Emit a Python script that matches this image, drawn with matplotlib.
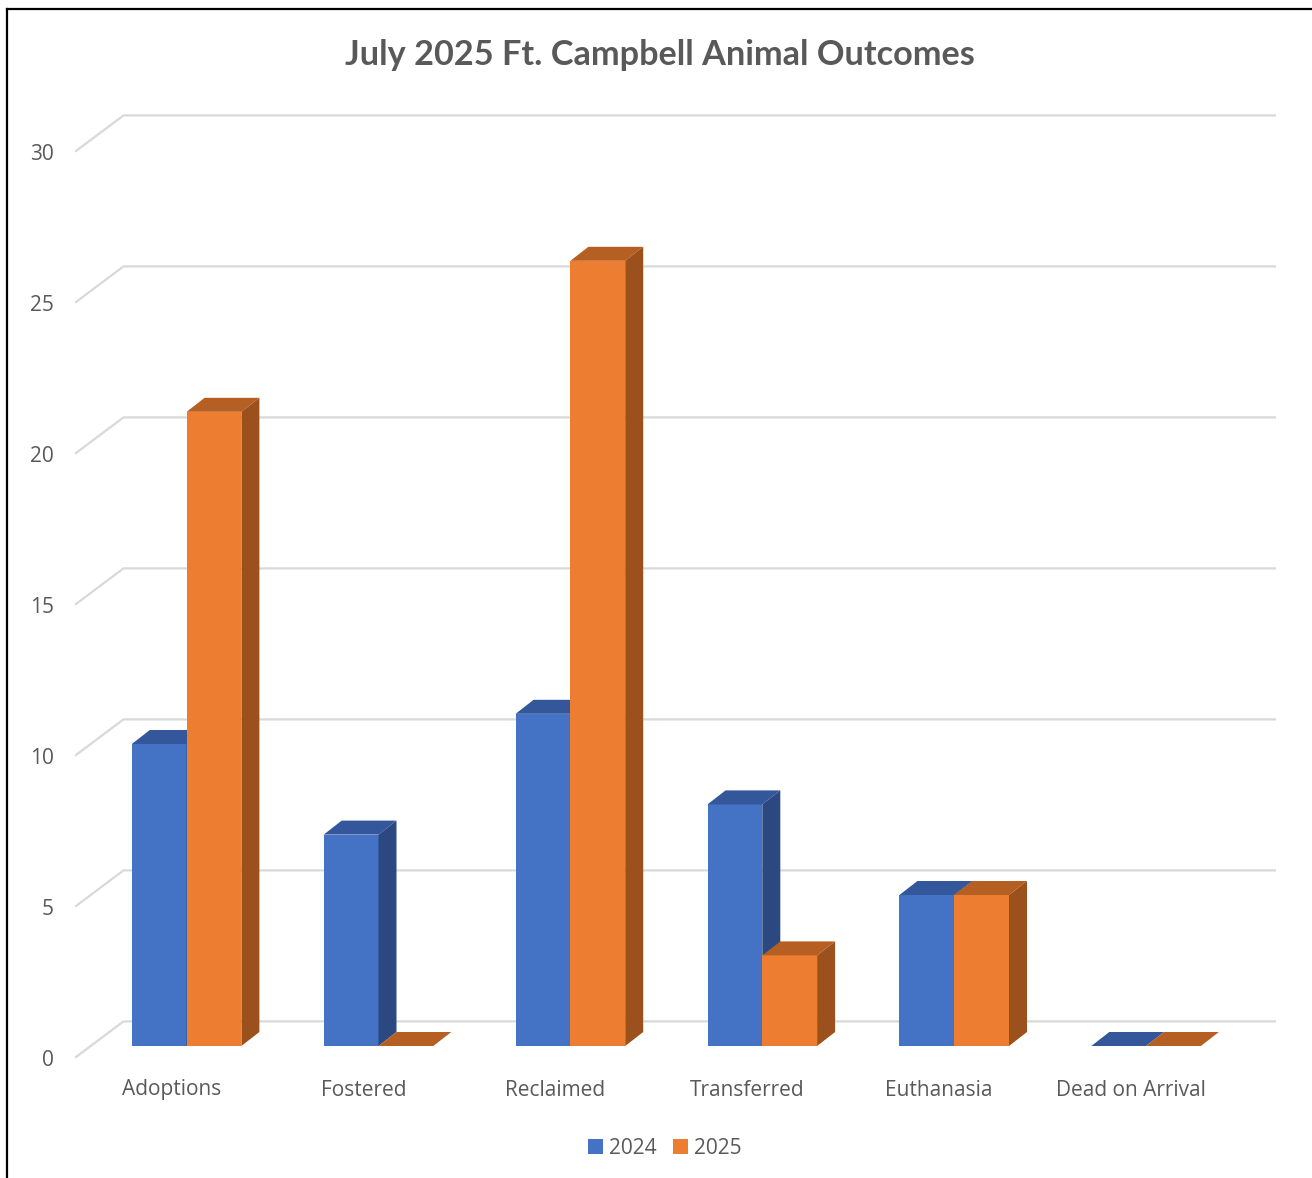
import matplotlib
matplotlib.use("Agg")
import matplotlib.pyplot as plt
from matplotlib.lines import Line2D
from matplotlib.patches import Polygon

#---------------------------data---------------------------#
categories = ["Adoptions", "Fostered", "Reclaimed", "Transferred", "Euthanasia", "Dead on Arrival"]
values_2024 = [10, 7, 11, 8, 5, 0]
values_2025 = [21, 0, 26, 3, 5, 0]
y_ticks = [0, 5, 10, 15, 20, 25, 30]
title = "July 2025 Ft. Campbell Animal Outcomes"

#--------------------------layout--------------------------#
W, H = 1312, 1178
step_px = 191.9      # pixels per category
unit_px = 30.2       # pixels per value
x0_px, y0_px = 186.6, 1046

bar_w = 54.8 / step_px
depth_x = 18 / step_px
depth_y = 14 / unit_px

grid_front_x = (76 - x0_px) / step_px
grid_back_x = (123.5 - x0_px) / step_px
grid_right_x = (1275 - x0_px) / step_px
grid_front_y = -11 / unit_px
grid_back_y = 24.6 / unit_px

text_color = "#595959"
grid_color = "#D9D9D9"

plt.rcParams["font.family"] = ["Open Sans", "DejaVu Sans"]

fig = plt.figure(figsize=(W / 100, H / 100), dpi=100, facecolor="white")
ax = fig.add_axes([0, 0, 1, 1])
ax.set_xlim(-x0_px / step_px, (W - x0_px) / step_px)
ax.set_ylim(-(H - y0_px) / unit_px, y0_px / unit_px)
ax.axis("off")


def draw_series(xs, values, front, top, side, label):
    bars = ax.bar(xs, values, width=bar_w, align="edge", color=front, label=label, zorder=3)
    for x, v in zip(xs, values):
        ax.add_patch(Polygon([(x, v), (x + bar_w, v), (x + bar_w + depth_x, v + depth_y), (x + depth_x, v + depth_y)],
                             closed=True, facecolor=top, edgecolor="none", zorder=3))
        if v > 0:
            ax.add_patch(Polygon([(x + bar_w, 0), (x + bar_w + depth_x, depth_y),
                                  (x + bar_w + depth_x, v + depth_y), (x + bar_w, v)],
                                 closed=True, facecolor=side, edgecolor="none", zorder=3))
    return bars


#------------------------gridlines-------------------------#
for t in y_ticks:
    ax.plot([grid_front_x, grid_back_x, grid_right_x],
            [t + grid_front_y, t + grid_back_y, t + grid_back_y],
            color=grid_color, lw=1.6, zorder=1, solid_joinstyle="miter")
    ax.text(grid_front_x - 22 / step_px, t + grid_front_y - 1 / unit_px, str(t), ha="right", va="center_baseline",
            fontsize=15, color=text_color)

#---------------------------bars---------------------------#
xs = list(range(len(categories)))
h_2024 = h_2025 = None
for i in xs:
    # 2024 first, the 2025 top has to sit over the 2024 side
    h = draw_series([i - bar_w], [values_2024[i]], "#4472C4", "#34569A", "#2B4880", "2024")
    h_2024 = h_2024 or h
    h = draw_series([i], [values_2025[i]], "#ED7D31", "#B65F22", "#9C501C", "2025")
    h_2025 = h_2025 or h

#--------------------------labels--------------------------#
for i, name in zip(xs, categories):
    ax.text(i - 15 / step_px, -41.5 / unit_px, name, ha="center", va="center_baseline",
            fontsize=15, color=text_color)

ax.text((660 - x0_px) / step_px, (y0_px - 52) / unit_px, title, ha="center", va="center_baseline",
        fontsize=24.7, fontweight="bold", color=text_color, family=["Lato", "DejaVu Sans"])

ax.legend(handles=[h_2024, h_2025], labels=["2024", "2025"], ncols=2, loc="center",
          bbox_to_anchor=(665 / W, 1 - 1148 / H), frameon=False, fontsize=15,
          labelcolor=text_color, handlelength=0.7, handleheight=0.7,
          handletextpad=0.3, columnspacing=0.8)

#--------------------------border--------------------------#
fig.add_artist(Line2D([7 / W, 7 / W], [0, 1 - 9 / H], color="black", lw=1.6, solid_capstyle="projecting"))
fig.add_artist(Line2D([7 / W, 1], [1 - 9 / H, 1 - 9 / H], color="black", lw=1.6, solid_capstyle="projecting"))

fig.savefig("out.png", dpi=100)
